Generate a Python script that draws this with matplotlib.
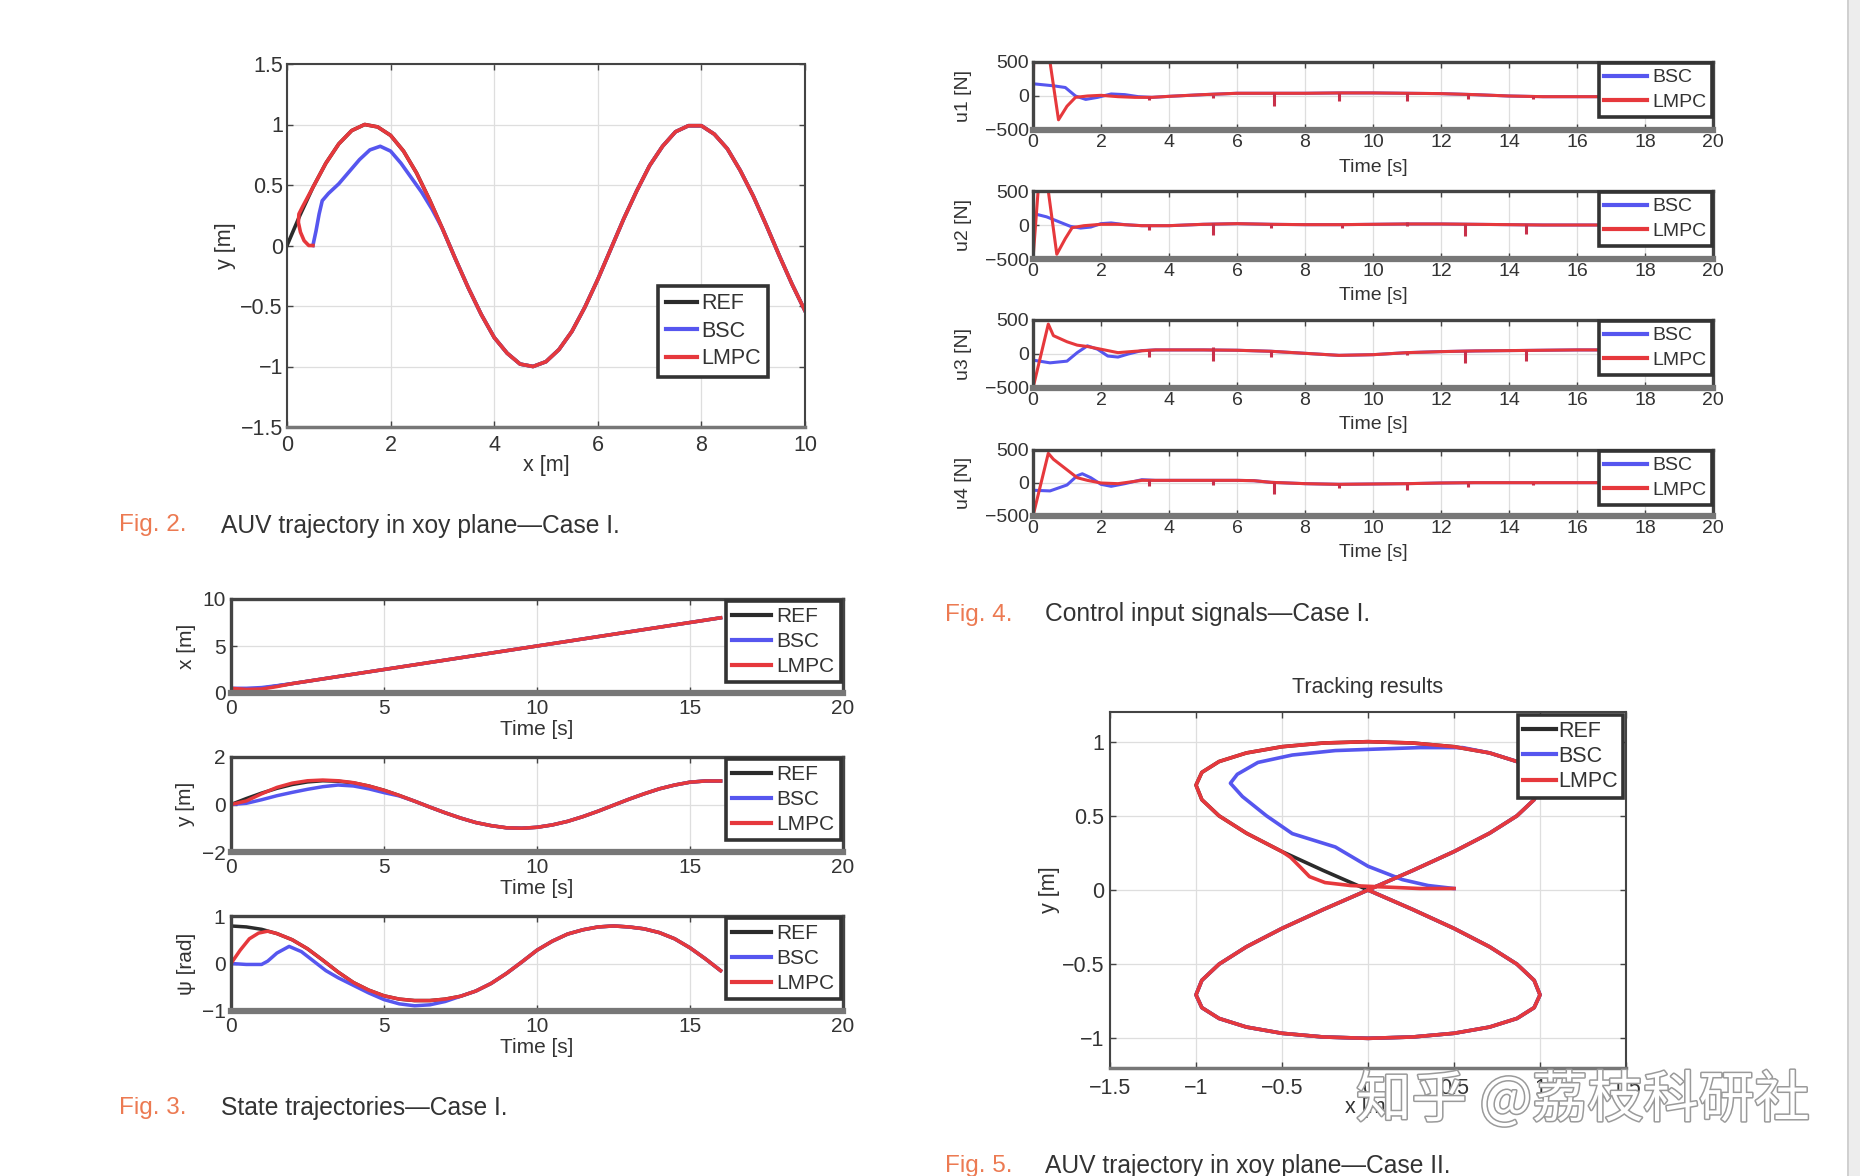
import matplotlib

matplotlib.use("Agg")
import matplotlib.pyplot as plt
import matplotlib.patheffects as pe
from matplotlib.patches import Rectangle
from matplotlib.ticker import FuncFormatter

W, H = 1860, 1176

plt.rcParams["font.family"] = ["Liberation Sans", "DejaVu Sans"]

REF_C = "#2b2b2b"
BSC_C = "#5656ef"
LMPC_C = "#e6383c"
CAP_C = "#ec7a52"
TXT_C = "#333333"

# --------------------------------------------------------------------------
# Case I reference path (x = 0.5 t), read off Fig. 2 / Fig. 3
# --------------------------------------------------------------------------
t_grid = [0.0, 0.5, 1.0, 1.5, 2.0, 2.5, 3.0, 3.5, 4.0, 4.5, 5.0, 5.5, 6.0, 6.5,
          7.0, 7.5, 8.0, 8.5, 9.0, 9.5, 10.0, 10.5, 11.0, 11.5, 12.0, 12.5,
          13.0, 13.5, 14.0, 14.5, 15.0, 15.5, 16.0, 16.5, 17.0, 17.5, 18.0,
          18.5, 19.0, 19.5, 20.0]
ref_x = [0.0, 0.25, 0.5, 0.75, 1.0, 1.25, 1.5, 1.75, 2.0, 2.25, 2.5, 2.75, 3.0,
         3.25, 3.5, 3.75, 4.0, 4.25, 4.5, 4.75, 5.0, 5.25, 5.5, 5.75, 6.0, 6.25,
         6.5, 6.75, 7.0, 7.25, 7.5, 7.75, 8.0, 8.25, 8.5, 8.75, 9.0, 9.25, 9.5,
         9.75, 10.0]
ref_y = [0.00, 0.25, 0.48, 0.68, 0.84, 0.95, 1.00, 0.98, 0.91, 0.78, 0.60, 0.38,
         0.14, -0.11, -0.35, -0.57, -0.76, -0.89, -0.98, -1.00, -0.96, -0.86,
         -0.71, -0.51, -0.28, -0.03, 0.22, 0.45, 0.66, 0.82, 0.94, 0.99, 0.99,
         0.92, 0.80, 0.62, 0.41, 0.17, -0.08, -0.32, -0.54]
ref_psi = [0.79, 0.77, 0.72, 0.63, 0.50, 0.31, 0.07, -0.18, -0.40, -0.56, -0.68,
           -0.75, -0.78, -0.78, -0.75, -0.69, -0.58, -0.42, -0.21, 0.03, 0.28,
           0.47, 0.62, 0.71, 0.77, 0.79, 0.77, 0.73, 0.65, 0.52, 0.33, 0.10,
           -0.15, -0.37, -0.56, -0.69, -0.76, -0.78, -0.76, -0.70, -0.62]
FIG3_END = 33  # the state plots stop at t = 16 s

# Fig. 2 transients (xy plane), they rejoin the reference afterwards
bsc2_x = [0.5, 0.56, 0.62, 0.68, 0.8, 1.0, 1.2, 1.4, 1.6, 1.8, 2.0, 2.2, 2.4, 2.6, 2.8]
bsc2_y = [0.0, 0.12, 0.26, 0.37, 0.43, 0.51, 0.61, 0.71, 0.79, 0.82, 0.78, 0.68, 0.56, 0.44, 0.30]
BSC2_JOIN = 12
lmpc2_x = [0.5, 0.42, 0.33, 0.26, 0.22, 0.23, 0.30, 0.40]
lmpc2_y = [0.0, 0.0, 0.04, 0.11, 0.19, 0.26, 0.32, 0.40]
LMPC2_JOIN = 2

# Fig. 3 transients (state vs time)
bsc3_x_t = [0.0, 0.5, 1.0, 1.5]
bsc3_x = [0.5, 0.5, 0.58, 0.78]
lmpc3_x_t = [0.0, 0.5, 1.0, 1.5]
lmpc3_x = [0.5, 0.38, 0.42, 0.68]
X3_JOIN = 4
bsc3_y_t = [0.0, 0.5, 1.0, 1.5, 2.0, 2.5, 3.0, 3.5, 4.0, 4.5, 5.0, 5.5]
bsc3_y = [0.0, 0.05, 0.20, 0.37, 0.51, 0.64, 0.75, 0.82, 0.78, 0.66, 0.50, 0.36]
BSC3_Y_JOIN = 12
lmpc3_y_t = [0.0, 0.5, 1.0, 1.5, 2.0, 2.5, 3.0, 3.5, 4.0]
lmpc3_y = [0.0, 0.15, 0.45, 0.72, 0.90, 1.00, 1.03, 1.00, 0.92]
LMPC3_Y_JOIN = 9
bsc3_psi_t = [0.0, 0.5, 1.0, 1.2, 1.5, 1.9, 2.3, 2.7, 3.1, 3.5, 4.0, 4.5, 5.0,
              5.5, 6.0, 6.5, 7.0]
bsc3_psi = [0.0, -0.02, -0.02, 0.05, 0.22, 0.36, 0.25, 0.05, -0.15, -0.30, -0.46,
            -0.62, -0.76, -0.85, -0.89, -0.87, -0.80]
BSC3_PSI_JOIN = 15
lmpc3_psi_t = [0.0, 0.3, 0.6, 0.9, 1.2]
lmpc3_psi = [0.0, 0.28, 0.52, 0.64, 0.68]
LMPC3_PSI_JOIN = 3

# --------------------------------------------------------------------------
# Fig. 4 control inputs [N] (saturated at +/-500)
# --------------------------------------------------------------------------
u1_bsc_t = [0, 0.3, 0.6, 0.95, 1.25, 1.55, 1.9, 2.3, 2.7, 3.1, 3.5, 4, 5, 6, 7,
            8, 9, 10, 11, 12, 13, 14, 15, 16, 18, 20]
u1_bsc = [180, 165, 150, 125, 0, -50, -20, 30, 20, -10, -20, -5, 20, 40, 40, 40,
          45, 45, 40, 35, 20, 0, -10, -10, -10, -10]
u1_lmpc_t = [0, 0.02, 0.5, 0.75, 1.0, 1.25, 1.6, 2.0, 2.5, 3.0, 3.5, 4, 5, 6, 7,
             8, 9, 10, 11, 12, 13, 14, 15, 16, 18, 20]
u1_lmpc = [0, 500, 500, -350, -150, -20, 0, 10, -10, -20, -20, -5, 20, 40, 40,
           40, 45, 45, 40, 35, 20, 0, -10, -10, -10, -10]
u1_spike_t = [3.4, 5.3, 7.1, 9.0, 11.0, 12.8, 14.7]
u1_spike_top = [-15, 20, 40, 45, 40, 25, -5]
u1_spike_bot = [-60, -30, -150, -70, -80, -40, -40]

u2_bsc_t = [0, 0.4, 0.8, 1.1, 1.4, 1.7, 2.0, 2.3, 2.7, 3.2, 4, 5, 6, 7, 8, 9,
            10, 11, 12, 13, 14, 15, 16, 18, 20]
u2_bsc = [170, 120, 40, -20, -45, -30, 20, 30, 5, -10, -10, 10, 20, 10, 5, 5,
          10, 15, 15, 10, 5, 0, 0, 0, 0]
u2_lmpc_t = [0, 0.15, 0.45, 0.7, 0.95, 1.15, 1.5, 2.0, 2.5, 3.2, 4, 5, 6, 7, 8,
             9, 10, 11, 12, 13, 14, 15, 16, 18, 20]
u2_lmpc = [-500, 500, 500, -430, -200, -40, -10, 10, 10, -10, -10, 10, 20, 10,
           5, 5, 10, 15, 15, 10, 5, 0, 0, 0, 0]
u2_spike_t = [3.4, 5.3, 7.0, 9.1, 11.0, 12.7, 14.5]
u2_spike_top = [-10, 30, 10, 5, 40, 20, 10]
u2_spike_bot = [-80, -150, -50, -40, -20, -160, -130]

u3_bsc_t = [0, 0.5, 1.0, 1.3, 1.6, 1.9, 2.2, 2.5, 2.8, 3.2, 3.6, 4, 5, 6, 7, 8,
            9, 10, 11, 12, 13, 14, 15, 16, 18, 20]
u3_bsc = [-90, -130, -105, 20, 120, 70, -30, -45, 0, 50, 60, 60, 60, 55, 40, 10,
          -20, -10, 20, 35, 45, 50, 55, 60, 60, 60]
u3_lmpc_t = [0, 0.45, 0.6, 1.0, 1.3, 1.6, 2.0, 2.5, 3.0, 3.6, 4, 5, 6, 7, 8, 9,
             10, 11, 12, 13, 14, 15, 16, 18, 20]
u3_lmpc = [-500, 440, 270, 180, 130, 110, 70, 20, 40, 60, 60, 60, 55, 40, 10,
           -20, -10, 20, 35, 45, 50, 55, 60, 60, 60]
u3_spike_t = [3.4, 5.3, 7.0, 11.0, 12.7, 14.5]
u3_spike_top = [60, 100, 40, 20, 45, 55]
u3_spike_bot = [-40, -100, -40, -20, -130, -100]

u4_bsc_t = [0, 0.5, 1.0, 1.3, 1.45, 1.7, 2.0, 2.3, 2.7, 3.2, 3.6, 4, 5, 6, 6.5,
            7, 8, 9, 10, 11, 12, 13, 14, 15, 16, 18, 20]
u4_bsc = [-110, -120, -30, 110, 140, 80, -20, -50, -10, 50, 40, 40, 40, 40, 35,
          10, -10, -20, -15, -10, 0, 5, 5, 5, 5, 5, 5]
u4_lmpc_t = [0, 0.45, 0.6, 1.0, 1.3, 1.6, 2.0, 2.5, 3.2, 3.6, 4, 5, 6, 6.5, 7,
             8, 9, 10, 11, 12, 13, 14, 15, 16, 18, 20]
u4_lmpc = [-500, 450, 360, 200, 80, 40, 0, -10, 40, 40, 40, 40, 40, 35, 10, -10,
           -20, -15, -10, 0, 5, 5, 5, 5, 5, 5]
u4_spike_t = [3.4, 5.3, 7.1, 9.0, 11.0, 12.8, 14.7]
u4_spike_top = [40, 40, 15, -15, -10, 0, 5]
u4_spike_bot = [-40, -30, -170, -80, -100, -60, -30]

# --------------------------------------------------------------------------
# Fig. 5 figure-eight (Case II)
# --------------------------------------------------------------------------
fig5_ref_x = [0, -0.259, -0.5, -0.707, -0.866, -0.966, -1, -0.966, -0.866, -0.707,
              -0.5, -0.259, 0, 0.259, 0.5, 0.707, 0.866, 0.966, 1, 0.966, 0.866,
              0.707, 0.5, 0.259, 0, -0.259, -0.5, -0.707, -0.866, -0.966, -1,
              -0.966, -0.866, -0.707, -0.5, -0.259, 0, 0.259, 0.5, 0.707, 0.866,
              0.966, 1, 0.966, 0.866, 0.707, 0.5, 0.259, 0]
fig5_ref_y = [0, 0.131, 0.259, 0.383, 0.5, 0.609, 0.707, 0.793, 0.866, 0.924,
              0.966, 0.991, 1, 0.991, 0.966, 0.924, 0.866, 0.793, 0.707, 0.609,
              0.5, 0.383, 0.259, 0.131, 0, -0.131, -0.259, -0.383, -0.5, -0.609,
              -0.707, -0.793, -0.866, -0.924, -0.966, -0.991, -1, -0.991, -0.966,
              -0.924, -0.866, -0.793, -0.707, -0.609, -0.5, -0.383, -0.259,
              -0.131, 0]
bsc5_x = [0.5, 0.35, 0.2, 0.0, -0.19, -0.44, -0.59, -0.73, -0.80, -0.76, -0.64,
          -0.44, -0.19, 0.05, 0.3, 0.55]
bsc5_y = [0.01, 0.03, 0.07, 0.16, 0.29, 0.38, 0.50, 0.63, 0.72, 0.78, 0.86, 0.91,
          0.94, 0.95, 0.96, 0.96]
BSC5_JOIN = 15
lmpc5_x = [0.5, 0.3, 0.1, -0.1, -0.25, -0.34, -0.39, -0.45]
lmpc5_y = [0.01, 0.01, 0.02, 0.03, 0.05, 0.09, 0.15, 0.22]
LMPC5_JOIN = 2


# --------------------------------------------------------------------------
# helpers
# --------------------------------------------------------------------------
fig = plt.figure(figsize=(W / 100, H / 100), dpi=100)
fig.patch.set_facecolor("white")


def px_axes(left, top, right, bottom):
    return fig.add_axes([left / W, 1 - bottom / H, (right - left) / W, (bottom - top) / H])


def matlab_fmt(v, _pos):
    return f"{v:g}".replace("-", "\u2212")


def style_axes(ax, fs, heavy=False, pad=4):
    ax.tick_params(direction="in", top=True, right=True, labelsize=fs,
                   labelcolor=TXT_C, color="#444444", length=4, width=1, pad=pad)
    ax.grid(True, color="#dedede", lw=0.9)
    ax.set_axisbelow(True)
    ax.xaxis.set_major_formatter(FuncFormatter(matlab_fmt))
    ax.yaxis.set_major_formatter(FuncFormatter(matlab_fmt))
    for side, sp in ax.spines.items():
        sp.set_color("#444444")
        sp.set_linewidth(2.4 if heavy else 1.5)
    ax.spines["bottom"].set_color("#777777")
    ax.spines["bottom"].set_linewidth(4.5 if heavy else 2.5)


def add_legend(ax, fs, hl, tp, ls, bp, **kw):
    leg = ax.legend(fontsize=fs, frameon=True, fancybox=False, edgecolor="#333333",
                    framealpha=1, handlelength=hl, handletextpad=tp, labelspacing=ls,
                    borderpad=bp, labelcolor=TXT_C, **kw)
    leg.get_frame().set_linewidth(2.6)
    for line in leg.get_lines():
        line.set_linewidth(3.0)
    return leg


def label_axes(ax, xlabel, ylabel, fs, x_off, y_off, w, h):
    ax.set_xlabel(xlabel, fontsize=fs, color=TXT_C, va="center")
    ax.set_ylabel(ylabel, fontsize=fs, color=TXT_C, va="center")
    ax.xaxis.set_label_coords(0.5, -x_off / h)
    ax.yaxis.set_label_coords(-y_off / w, 0.5)


def caption(x_num, x_txt, y, num, text):
    fig.text(x_num / W, 1 - y / H, num, fontsize=17.5, color=CAP_C, va="center")
    fig.text(x_txt / W, 1 - y / H, text, fontsize=17.7, color=TXT_C, va="center")


# --------------------------------------------------------------------------
# Fig. 2  AUV trajectory in xoy plane, Case I
# --------------------------------------------------------------------------
ax = px_axes(287, 64, 805, 427)
ax.plot(ref_x, ref_y, color=REF_C, lw=2.6, label="REF")
ax.plot(bsc2_x + ref_x[BSC2_JOIN:], bsc2_y + ref_y[BSC2_JOIN:], color=BSC_C, lw=2.6, label="BSC")
ax.plot(lmpc2_x + ref_x[LMPC2_JOIN:], lmpc2_y + ref_y[LMPC2_JOIN:], color=LMPC_C, lw=2.6, label="LMPC")
ax.set_xlim(0, 10)
ax.set_ylim(-1.5, 1.5)
ax.set_xticks([0, 2, 4, 6, 8, 10])
ax.set_yticks([-1.5, -1, -0.5, 0, 0.5, 1, 1.5])
style_axes(ax, 15.5, pad=3)
ax.tick_params(axis="x", pad=6)
label_axes(ax, "x [m]", "y [m]", 15.5, 38, 62, 518, 363)
add_legend(ax, 15.5, 1.45, 0.2, 0.3, 0.35, loc="upper right",
           bbox_to_anchor=(0.929, 0.389), borderaxespad=0)
caption(118.6, 220.6, 525.5, "Fig. 2.", "AUV trajectory in xoy plane\u2014Case I.")

# --------------------------------------------------------------------------
# Fig. 3  State trajectories, Case I
# --------------------------------------------------------------------------
fig3_rows = [(599, 693), (757, 852), (916, 1011)]
fig3_series = [
    ("x [m]", ref_x, bsc3_x_t, bsc3_x, X3_JOIN, lmpc3_x_t, lmpc3_x, X3_JOIN, (0, 10), [0, 5, 10]),
    ("y [m]", ref_y, bsc3_y_t, bsc3_y, BSC3_Y_JOIN, lmpc3_y_t, lmpc3_y, LMPC3_Y_JOIN, (-2, 2), [-2, 0, 2]),
    ("\u03c8 [rad]", ref_psi, bsc3_psi_t, bsc3_psi, BSC3_PSI_JOIN, lmpc3_psi_t, lmpc3_psi,
     LMPC3_PSI_JOIN, (-1, 1), [-1, 0, 1]),
]
end = FIG3_END
for (top, bottom), (ylab, ref, bt, bv, bj, lt, lv, lj, ylim, yt) in zip(fig3_rows, fig3_series):
    ax = px_axes(231, top, 843, bottom)
    ax.plot(t_grid[:end], ref[:end], color=REF_C, lw=2.5, label="REF")
    ax.plot(bt + t_grid[bj:end], bv + ref[bj:end], color=BSC_C, lw=2.5, label="BSC")
    ax.plot(lt + t_grid[lj:end], lv + ref[lj:end], color=LMPC_C, lw=2.5, label="LMPC")
    ax.set_xlim(0, 20)
    ax.set_ylim(*ylim)
    ax.set_xticks([0, 5, 10, 15, 20])
    ax.set_yticks(yt)
    style_axes(ax, 15, heavy=True, pad=4)
    label_axes(ax, "Time [s]", ylab, 15, 36.5, 45, 612, bottom - top)
    add_legend(ax, 15, 1.9, 0.25, 0.28, 0.3, loc="upper right", borderaxespad=0.1)
caption(118.6, 220.6, 1108, "Fig. 3.", "State trajectories\u2014Case I.")

# --------------------------------------------------------------------------
# Fig. 4  Control input signals, Case I
# --------------------------------------------------------------------------
fig4_rows = [(62, 130), (191, 259), (320, 388), (450, 516)]
fig4_series = [
    ("u1 [N]", u1_bsc_t, u1_bsc, u1_lmpc_t, u1_lmpc, u1_spike_t, u1_spike_top, u1_spike_bot),
    ("u2 [N]", u2_bsc_t, u2_bsc, u2_lmpc_t, u2_lmpc, u2_spike_t, u2_spike_top, u2_spike_bot),
    ("u3 [N]", u3_bsc_t, u3_bsc, u3_lmpc_t, u3_lmpc, u3_spike_t, u3_spike_top, u3_spike_bot),
    ("u4 [N]", u4_bsc_t, u4_bsc, u4_lmpc_t, u4_lmpc, u4_spike_t, u4_spike_top, u4_spike_bot),
]
for (top, bottom), (ylab, bt, bv, lt, lv, st, s_top, s_bot) in zip(fig4_rows, fig4_series):
    ax = px_axes(1033, top, 1713, bottom)
    ax.plot(bt, bv, color=BSC_C, lw=2.2, label="BSC")
    ax.plot(lt, lv, color=LMPC_C, lw=2.2, label="LMPC")
    ax.vlines(st, s_bot, s_top, color="#c8304a", lw=2.2)
    ax.set_xlim(0, 20)
    ax.set_ylim(-500, 500)
    ax.set_xticks(list(range(0, 21, 2)))
    ax.set_yticks([-500, 0, 500])
    style_axes(ax, 14, heavy=True, pad=3)
    label_axes(ax, "Time [s]", ylab, 14, 37, 70, 680, bottom - top)
    add_legend(ax, 14, 2.2, 0.25, 0.35, 0.3, loc="upper right", borderaxespad=0.05)
caption(945.4, 1045, 614.5, "Fig. 4.", "Control input signals\u2014Case I.")

# --------------------------------------------------------------------------
# Fig. 5  Tracking results, Case II
# --------------------------------------------------------------------------
ax = px_axes(1110, 712, 1626, 1068)
ax.plot(fig5_ref_x, fig5_ref_y, color=REF_C, lw=2.6, label="REF")
ax.plot(bsc5_x + fig5_ref_x[BSC5_JOIN:], bsc5_y + fig5_ref_y[BSC5_JOIN:],
        color=BSC_C, lw=2.6, label="BSC")
ax.plot(lmpc5_x + fig5_ref_x[LMPC5_JOIN:], lmpc5_y + fig5_ref_y[LMPC5_JOIN:],
        color=LMPC_C, lw=2.6, label="LMPC")
ax.set_xlim(-1.5, 1.5)
ax.set_ylim(-1.2, 1.2)
ax.set_xticks([-1.5, -1, -0.5, 0, 0.5, 1, 1.5])
ax.set_yticks([-1, -0.5, 0, 0.5, 1])
style_axes(ax, 15.5, pad=4)
ax.tick_params(axis="x", pad=7)
label_axes(ax, "x [m]", "y [m]", 15.5, 39, 61, 516, 356)
ax.text(0.5, 1 + 25 / 356, "Tracking results", transform=ax.transAxes, ha="center",
        va="center", fontsize=15.5, color=TXT_C)
add_legend(ax, 15.5, 1.5, 0.1, 0.2, 0.25, loc="upper right", borderaxespad=0.15)
caption(945.4, 1045, 1166, "Fig. 5.", "AUV trajectory in xoy plane\u2014Case II.")

# page edge and watermark
fig.patches.append(Rectangle((1847 / W, 0), 13 / W, 1, transform=fig.transFigure,
                             facecolor="#ededed", edgecolor="none"))
fig.patches.append(Rectangle((1847 / W, 0), 1.5 / W, 1, transform=fig.transFigure,
                             facecolor="#d0d0d0", edgecolor="none"))
fig.text(1356 / W, 1 - 1101 / H, "知乎 @荔枝科研社", fontsize=40,
         family=["Noto Sans CJK SC", "DejaVu Sans"], color="white", va="center",
         ha="left", zorder=10,
         path_effects=[pe.withStroke(linewidth=2.2, foreground="#9a9a9a")])

fig.savefig("out.png", dpi=100, facecolor="white")
